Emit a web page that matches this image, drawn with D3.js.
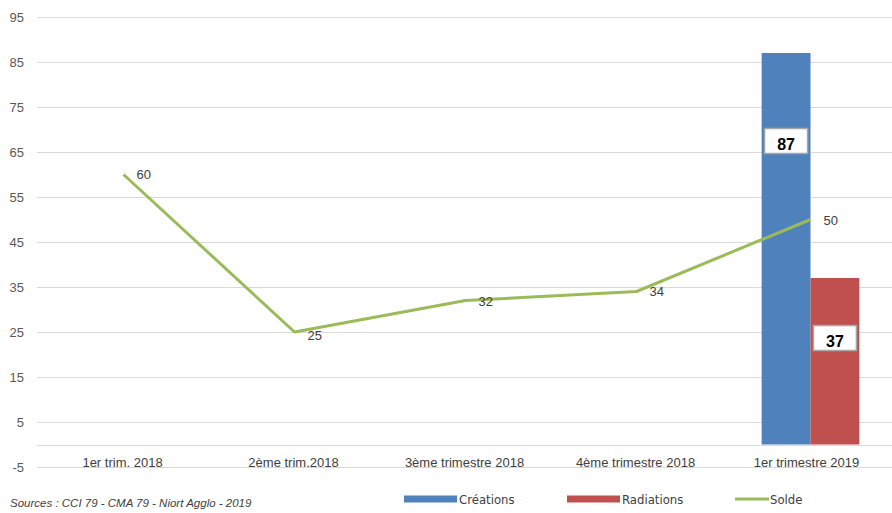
<!DOCTYPE html>
<html><head><meta charset="utf-8">
<script src="https://cdn.jsdelivr.net/npm/d3@7"></script>
<style>body{margin:0;background:#fff;}svg{display:block;font-family:"Liberation Sans",Arial,sans-serif;}</style>
</head><body>
<svg id="c" width="892" height="513"></svg>
<script>
const categories = ["1er trim. 2018","2ème trim.2018","3ème trimestre 2018","4ème trimestre 2018","1er trimestre 2019"];
const creations = [null,null,null,null,87];
const radiations = [null,null,null,null,37];
const solde = [60,25,32,34,50];
const yTicks = [-5,5,15,25,35,45,55,65,75,85,95];
const seriesNames = ["Créations","Radiations","Solde"];
const colors = {"Créations":"#4F81BD","Radiations":"#C0504D","Solde":"#9BBB59"};

(function(){
const svg = d3.select("#c");
const mLeft = 37, mRight = 892, mTop = 17, mBottom = 467;
const y = d3.scaleLinear().domain([-5,95]).range([mBottom, mTop]);
const x = d3.scaleBand().domain(categories).range([mLeft, mRight]);
const inner = d3.scaleBand().domain(["Créations","Radiations"]).range([0, x.bandwidth()]).paddingInner(0).paddingOuter(0.75);

// gridlines
const gridVals = yTicks.concat([0]);
svg.append("g").selectAll("line").data(gridVals).join("line")
  .attr("x1", mLeft).attr("x2", mRight)
  .attr("y1", d => Math.round(y(d)) + 0.5).attr("y2", d => Math.round(y(d)) + 0.5)
  .attr("stroke", "#D9D9D9").attr("stroke-width", 1);

// y axis labels
const yAxis = d3.axisLeft(y).tickValues(yTicks).tickSize(0).tickPadding(13).tickFormat(d => String(d));
const gy = svg.append("g").attr("transform", `translate(${mLeft},0)`).call(yAxis);
gy.select(".domain").remove();
gy.selectAll("text").attr("font-size", 13).attr("fill", "#595959").attr("font-family","Liberation Sans, Arial, sans-serif");

// x axis labels
const xAxis = d3.axisBottom(x).tickSize(0).tickPadding(0);
const gx = svg.append("g").attr("transform", `translate(0,${mBottom - 9})`).call(xAxis);
gx.select(".domain").remove();
gx.selectAll("text").attr("font-size", 13).attr("fill", "#404040").attr("font-family","Liberation Sans, Arial, sans-serif");

// bars
const barData = [];
categories.forEach((c,i) => {
  if (creations[i] != null) barData.push({cat:c, s:"Créations", v:creations[i]});
  if (radiations[i] != null) barData.push({cat:c, s:"Radiations", v:radiations[i]});
});
svg.append("g").selectAll("rect").data(barData).join("rect")
  .attr("x", d => x(d.cat) + inner(d.s) + 4)
  .attr("width", inner.bandwidth())
  .attr("y", d => y(d.v))
  .attr("height", d => y(0) - y(d.v))
  .attr("fill", d => colors[d.s]);

// bar labels
const labelOffset = {"Créations": 88, "Radiations": 60};
const bl = svg.append("g").selectAll("g").data(barData).join("g")
  .attr("transform", d => `translate(${x(d.cat) + inner(d.s) + 4 + inner.bandwidth()/2},${y(d.v) + labelOffset[d.s]})`);
bl.append("rect").attr("x", -21.5).attr("y", -12.5).attr("width", 43).attr("height", 25)
  .attr("fill", "#fff").attr("stroke", "#A6A6A6").attr("stroke-width", 1.5);
bl.append("text").attr("text-anchor","middle").attr("dy", "0.38em").attr("y", 3)
  .attr("font-size", 16).attr("font-weight","bold").attr("fill","#000").text(d => d.v);

// line
const cx = (c, i) => x(c) + x.bandwidth()/2 + 1 + (i === 4 ? 3 : 0);
const line = d3.line().x((d,i) => cx(categories[i], i)).y(d => y(d));
svg.append("path").datum(solde).attr("d", line).attr("fill","none")
  .attr("stroke", colors["Solde"]).attr("stroke-width", 3).attr("stroke-linejoin","round");

// line labels
const lblDy = [0, 3, 1, 0, 1];
svg.append("g").selectAll("text").data(solde).join("text")
  .attr("x", (d,i) => cx(categories[i], i) + 13)
  .attr("y", (d,i) => y(d) + lblDy[i])
  .attr("dy","0.35em")
  .attr("font-size", 13).attr("fill", "#404040").text(d => d);

// legend
const legX = {"Créations":404, "Radiations":567, "Solde":735};
const lg = svg.append("g").selectAll("g").data(seriesNames).join("g")
  .attr("transform", d => `translate(${legX[d]},499)`);
lg.filter(d => d !== "Solde").append("rect").attr("x",0).attr("y",-3.5).attr("width",53).attr("height",7).attr("fill", d => colors[d]);
lg.filter(d => d === "Solde").append("line").attr("x1",0).attr("x2",34).attr("y1",0).attr("y2",0)
  .attr("stroke", colors["Solde"]).attr("stroke-width",3);
lg.append("text").attr("x", d => d === "Solde" ? 35 : 55).attr("dy","0.35em")
  .attr("font-family", "'Liberation Sans Narrow','DejaVu Sans Condensed',sans-serif")
  .attr("font-size", 13).attr("fill", "#404040").text(d => d);

// source
svg.append("text").attr("x", 10).attr("y", 507).attr("font-size", 11.5).attr("font-style","italic")
  .attr("fill","#404040").text("Sources : CCI 79 - CMA 79 - Niort Agglo - 2019");
})();
</script>
</body></html>
